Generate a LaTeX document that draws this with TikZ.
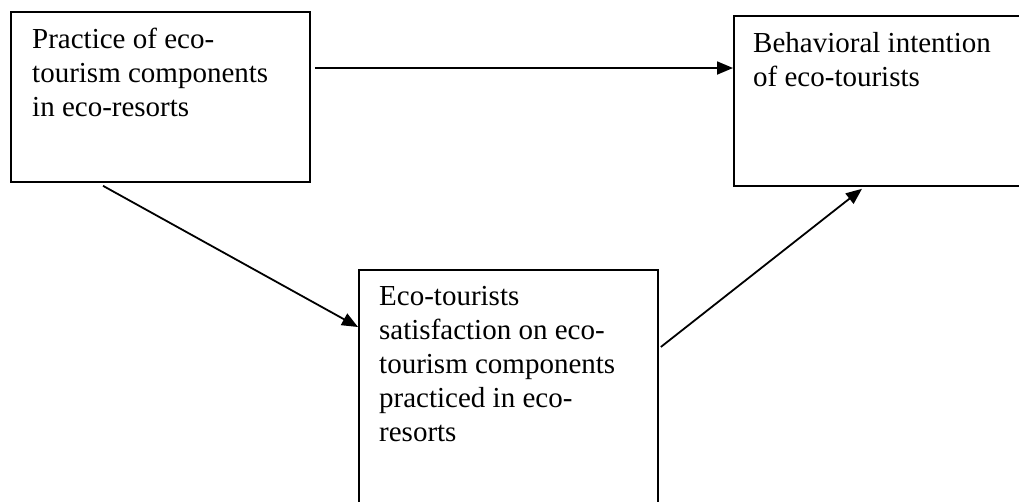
\documentclass[tikz,border=0pt]{standalone}
\usepackage{fontspec}
\setmainfont{Liberation Serif}
\usetikzlibrary{calc,arrows.meta}
\begin{document}
\begin{tikzpicture}[x=1pt,y=-1pt,
  box/.style={draw,line width=1.8pt,rectangle,inner sep=0pt,anchor=north west},
  label/.style={anchor=north west,inner sep=0pt,align=left,font=\fontsize{29}{34}\selectfont},
  arr/.style={line width=1.8pt,-{Triangle[length=16pt,width=13pt]}}]
\clip (0,0) rectangle (1019,501);
\fill[white] (0,0) rectangle (1019,501);
\node[box,minimum width=299pt,minimum height=170pt] (A) at (10,11) {};
\node[box,minimum width=300pt,minimum height=170pt] (B) at (733,15) {};
\node[box,minimum width=299pt,minimum height=260pt] (C) at (358,269) {};
\node[label] (tA) at ($(A.north west)+(22,13)$) {\strut Practice of eco-\\tourism components\\in eco-resorts};
\node[label] (tB) at ($(B.north west)+(20,13)$) {\strut Behavioral intention\\of eco-tourists};
\node[label] (tC) at ($(C.north west)+(21,12)$) {\strut Eco-tourists\\satisfaction on eco-\\tourism components\\practiced in eco-\\resorts};
\coordinate (a1) at ($(A.north east)+(4,57)$);
\coordinate (b1) at ($(B.north west)+(0,53)$);
\coordinate (a2) at ($(A.south west)+(93,3)$);
\coordinate (c1) at ($(C.north west)+(0,58)$);
\coordinate (c2) at ($(C.north east)+(2,78)$);
\coordinate (b2) at ($(B.south west)+(129,2)$);
\draw[arr] (a1) -- (b1);
\draw[arr] (a2) -- (c1);
\draw[arr] (c2) -- (b2);
\end{tikzpicture}
\end{document}
